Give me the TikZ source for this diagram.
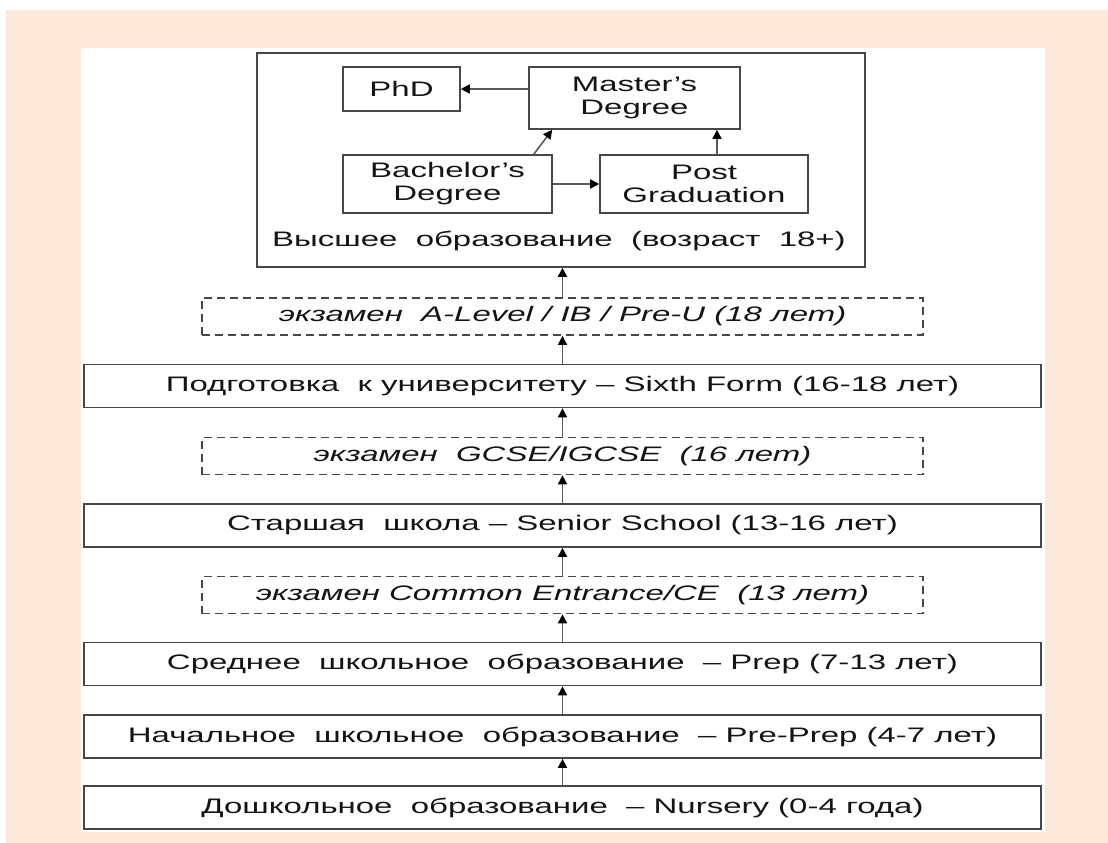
\documentclass[tikz,border=0pt]{standalone}
\usepackage{fontspec}
\setmainfont{Liberation Sans}[FakeStretch=1.57]
\usepackage{xcolor}
\usetikzlibrary{arrows.meta}
\definecolor{peach}{HTML}{FDE9D9}

\begin{document}
\begin{tikzpicture}
  [x=1pt,y=-1pt,line width=1.6pt,
   every node/.style={draw=black!72,align=center,inner sep=0pt,text=black!92,font=\fontsize{21}{23}\selectfont}, % all boxes share this look
   stage/.style={minimum width=957pt,minimum height=43pt},
   exam/.style={minimum width=721pt,minimum height=37pt,dash pattern=on 8pt off 5pt,font=\fontsize{21}{23}\selectfont\itshape},
   degree/.style={minimum height=58pt},
   arr/.style={draw=black!65,-{Triangle[length=9pt,width=9pt,color=black]}}]

    % page background
    \fill[peach] (6,10) rectangle (1108,843);
    \fill[white] (81,48) rectangle (1045,832);
    \useasboundingbox (0,0) rectangle (1108,843);

    % higher education
    \node[minimum width=608pt,minimum height=214pt] (higher) at (561,160) {};
    \node[draw=none] (higherlbl) at (559,241) {Высшее~ образование~ (возраст~ 18+)};
    \node[minimum width=117pt,minimum height=44pt] (phd) at (401.5,89) {PhD};
    \node[minimum width=211pt,minimum height=62pt] (master) at (634.5,98) {Master’s\\Degree};
    \node[degree,minimum width=209pt] (bachelor) at (447.5,184) {Bachelor’s\\Degree};
    \node[degree,minimum width=208pt] (post) at (704,184) {Post\\Graduation};

    \draw[arr] (master.west |- phd.east) -- (phd.east);
    \draw[arr] ([xshift=-19pt]bachelor.north east) -- ([xshift=24pt]master.south west);
    \draw[arr] (bachelor) -- (post);
    \draw[arr] ([xshift=13pt]post.north) -- ([xshift=13pt]post.north |- master.south);

    % school stages
    \node[exam] (alevel) at (562.5,316.5) {экзамен~ A-Level / IB / Pre-U (18 лет)};
    \node[stage] (sixth) at (562.5,386) {Подготовка~ к университету – Sixth Form (16-18 лет)};
    \node[exam] (gcse) at (562.5,456) {экзамен~ GCSE/IGCSE~ (16 лет)};
    \node[stage] (senior) at (562.5,525.5) {Старшая~ школа – Senior School (13-16 лет)};
    \node[exam] (ce) at (562.5,595) {экзамен Common Entrance/CE~ (13 лет)};
    \node[stage] (prep) at (562.5,664) {Среднее~ школьное~ образование~ – Prep (7-13 лет)};
    \node[stage] (preprep) at (562.5,736.5) {Начальное~ школьное~ образование~ – Pre-Prep (4-7 лет)};
    \node[stage] (nursery) at (562.5,807.5) {Дошкольное~ образование~ – Nursery (0-4 года)};

    \foreach \a/\b in {nursery/preprep,preprep/prep,prep/ce,ce/senior,senior/gcse,gcse/sixth,sixth/alevel}
      \draw[arr] (\a) -- (\b);
    \draw[arr] (alevel.north) -- (alevel.north |- higher.south);

\end{tikzpicture}
\end{document}
